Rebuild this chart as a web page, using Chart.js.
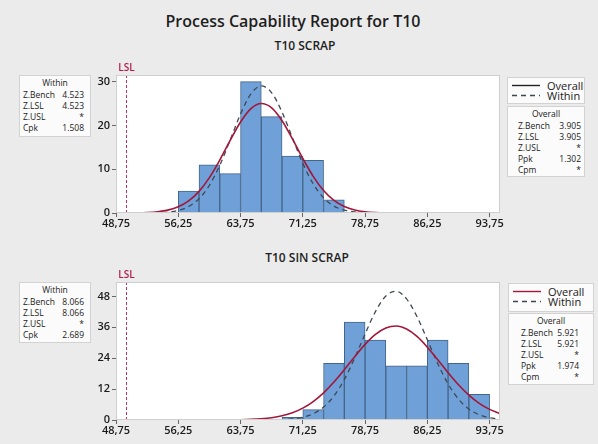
<!DOCTYPE html>
<html>
<head>
<meta charset="utf-8">
<script src="https://cdn.jsdelivr.net/npm/chart.js@4.4.1/dist/chart.umd.min.js"></script>
<style>
  html, body { margin: 0; padding: 0; background: #ebebeb; }
  #wrap { position: relative; width: 598px; height: 444px; overflow: hidden; background: #ebebeb;
          font-family: "Open Sans", "Noto Sans", sans-serif; color: #1e1e1e; }
  canvas { position: absolute; left: 0; }
  .t { position: absolute; white-space: nowrap; transform: translate(-50%, -50%); }
  .box { position: absolute; background: #fbfbfb; border: 1px solid #d2d2d2; box-sizing: border-box; }
  .box span { position: absolute; white-space: nowrap; font-size: 8.5px; line-height: 10px; color: #222; }
  .leg span { font-size: 11px; line-height: 12px; }
</style>
</head>
<body>
<div id="wrap">
  <div class="t" style="left:293px;top:21px;font-size:16px;font-weight:600;">Process Capability Report for T10</div>
  <div class="t" style="left:305px;top:45px;font-size:12px;font-weight:600;">T10 SCRAP</div>
  <div class="t" style="left:307px;top:257px;font-size:12px;font-weight:600;">T10 SIN SCRAP</div>
  <canvas id="cTop" width="598" height="176" style="top:60px"></canvas>
  <canvas id="cBot" width="598" height="176" style="top:268px"></canvas>
</div>
<script>
// ---- shared axis settings ----
const binWidth = 2.5;
const lslValue = 50;
const xTickValues = [48.75, 56.25, 63.75, 71.25, 78.75, 86.25, 93.75];
const xTickLabels = ['48,75', '56,25', '63,75', '71,25', '78,75', '86,25', '93,75'];

// ---- T10 SCRAP ----
const topBinStarts = [56.25, 58.75, 61.25, 63.75, 66.25, 68.75, 71.25, 73.75];
const topCounts = [5, 11, 9, 30, 22, 13, 12, 3];
const topCurveX = [50, 51.25, 52.5, 53.75, 55, 56.25, 57.5, 58.75, 60, 61.25, 62.5, 63.75, 65, 66.25,
                   67.5, 68.75, 70, 71.25, 72.5, 73.75, 75, 76.25, 77.5, 78.75, 80, 81.25, 82.5];
const topOverall = [0.01, 0.04, 0.11, 0.28, 0.66, 1.41, 2.75, 4.93, 8.07, 12.09, 16.57, 20.77, 23.83, 25.0,
                    24.0, 21.07, 16.93, 12.44, 8.37, 5.14, 2.89, 1.49, 0.70, 0.30, 0.12, 0.04, 0.01];
const topWithin = [0.001, 0.005, 0.02, 0.07, 0.22, 0.60, 1.48, 3.26, 6.33, 10.90, 16.66, 22.60, 27.18, 29.0,
                   27.44, 23.03, 17.15, 11.33, 6.64, 3.45, 1.59, 0.65, 0.24, 0.08, 0.02, 0.006, 0.002];
const topYTicks = [0, 10, 20, 30];
const topWithinStats = [['Z.Bench', '4.523'], ['Z.LSL', '4.523'], ['Z.USL', '*'], ['Cpk', '1.508']];
const topOverallStats = [['Z.Bench', '3.905'], ['Z.LSL', '3.905'], ['Z.USL', '*'], ['Ppk', '1.302'], ['Cpm', '*']];

// ---- T10 SIN SCRAP ----
const botBinStarts = [68.75, 71.25, 73.75, 76.25, 78.75, 81.25, 83.75, 86.25, 88.75, 91.25];
const botCounts = [1, 4, 22, 38, 31, 21, 21, 31, 22, 10];
const botOverallX = [61.25, 62.5, 63.75, 65, 66.25, 67.5, 68.75, 70, 71.25, 72.5, 73.75, 75, 76.25, 77.5,
                     78.75, 80, 81.25, 82.5, 83.75, 85, 86.25, 87.5, 88.75, 90, 91.25, 92.5, 93.75, 95];
const botOverall = [0.02, 0.05, 0.11, 0.23, 0.47, 0.90, 1.64, 2.83, 4.62, 7.17, 10.56, 14.75, 19.55, 24.60,
                    29.37, 33.27, 35.77, 36.49, 35.32, 32.45, 28.28, 23.39, 18.36, 13.68, 9.67, 6.48, 4.13, 2.49];
const botWithinX = [66.25, 67.5, 68.75, 70, 71.25, 72.5, 73.75, 75, 76.25, 77.5, 78.75, 80, 81.25, 82.5,
                    83.75, 85, 86.25, 87.5, 88.75, 90, 91.25, 92.5, 93.75, 95];
const botWithin = [0.02, 0.05, 0.16, 0.44, 1.08, 2.45, 5.01, 9.32, 15.72, 24.07, 33.42, 42.11, 48.15, 49.97,
                   47.04, 40.19, 31.16, 21.92, 13.99, 8.10, 4.26, 2.03, 0.88, 0.35];
const botYTicks = [0, 12, 24, 36, 48];
const botWithinStats = [['Z.Bench', '8.066'], ['Z.LSL', '8.066'], ['Z.USL', '*'], ['Cpk', '2.689']];
const botOverallStats = [['Z.Bench', '5.921'], ['Z.LSL', '5.921'], ['Z.USL', '*'], ['Ppk', '1.974'], ['Cpm', '*']];

const RED = '#a3173a';
const DASH = '#3f4852';
const BAR_FILL = '#6fa0d8';
const BAR_EDGE = '#44658a';

Chart.defaults.font.family = "'Open Sans', 'Noto Sans', sans-serif";
Chart.defaults.color = '#1a1a1a';

// white plot area, frame, and the LSL reference line with its tag
const plotDecor = {
  id: 'plotDecor',
  beforeDraw(chart) {
    const a = chart.chartArea, ctx = chart.ctx;
    ctx.save();
    ctx.fillStyle = '#ffffff';
    ctx.fillRect(a.left, a.top, a.right - a.left, a.bottom - a.top);
    ctx.restore();
  },
  beforeDatasetsDraw(chart) {
    const a = chart.chartArea, ctx = chart.ctx;
    const x = Math.round(chart.scales.x.getPixelForValue(lslValue)) + 0.5;
    ctx.save();
    ctx.strokeStyle = '#c3305d';
    ctx.lineWidth = 1;
    ctx.setLineDash([3, 2]);
    ctx.beginPath();
    ctx.moveTo(x, a.top);
    ctx.lineTo(x, a.bottom);
    ctx.stroke();
    ctx.setLineDash([]);
    ctx.fillStyle = '#b01a4c';
    ctx.font = "600 10px 'Open Sans', sans-serif";
    ctx.textAlign = 'center';
    ctx.textBaseline = 'middle';
    ctx.fillText('LSL', x, a.top - 7);
    ctx.restore();
  },
  afterDatasetsDraw(chart) {
    const a = chart.chartArea, ctx = chart.ctx;
    ctx.save();
    ctx.strokeStyle = '#cfcfcf';
    ctx.lineWidth = 1;
    ctx.strokeRect(a.left + 0.5, a.top + 0.5, a.right - a.left - 1, a.bottom - a.top - 1);
    ctx.restore();
  }
};

function makeChart(id, binStarts, counts, overallX, overall, withinX, within, yTicks, yMax, pad) {
  const bars = binStarts.map((s, i) => ({ x: s + binWidth / 2, y: counts[i] }));
  return new Chart(document.getElementById(id), {
    type: 'bar',
    data: {
      datasets: [
        { type: 'line', data: overallX.map((x, i) => ({ x, y: overall[i] })), borderColor: RED,
          borderWidth: 1.6, pointRadius: 0, cubicInterpolationMode: 'monotone', order: 1 },
        { type: 'line', data: withinX.map((x, i) => ({ x, y: within[i] })), borderColor: DASH,
          borderWidth: 1.3, borderDash: [5, 4], pointRadius: 0, cubicInterpolationMode: 'monotone', order: 2 },
        { type: 'bar', data: bars, backgroundColor: BAR_FILL, borderColor: BAR_EDGE, borderWidth: 1,
          barPercentage: 1, categoryPercentage: 1, order: 3 }
      ]
    },
    options: {
      responsive: false,
      animation: false,
      events: [],
      layout: { padding: pad },
      plugins: { legend: { display: false }, tooltip: { enabled: false } },
      scales: {
        x: {
          type: 'linear', min: 48.75, max: 95, offset: false,
          grid: { display: true, drawOnChartArea: false, drawTicks: true, tickLength: 4, color: '#666', offset: false },
          border: { display: false },
          afterBuildTicks(s) { s.ticks = xTickValues.map(v => ({ value: v })); },
          afterFit(s) { s.height = 20; s.paddingLeft = 0; s.paddingRight = 0; },
          ticks: { font: { size: 11, weight: '600' }, color: '#1a1a1a', padding: 0, maxRotation: 0, autoSkip: false,
                   callback: v => xTickLabels[xTickValues.indexOf(v)] }
        },
        y: {
          type: 'linear', min: 0, max: yMax,
          grid: { display: true, drawOnChartArea: false, drawTicks: true, tickLength: 4, color: '#666' },
          border: { display: false },
          afterBuildTicks(s) { s.ticks = yTicks.map(v => ({ value: v })); },
          afterFit(s) { s.width = 30; s.paddingTop = 0; s.paddingBottom = 0; },
          ticks: { font: { size: 11, weight: '600' }, color: '#1a1a1a', padding: 2 }
        }
      }
    },
    plugins: [plotDecor]
  });
}

makeChart('cTop', topBinStarts, topCounts, topCurveX, topOverall, topCurveX, topWithin, topYTicks, 31.5,
          { left: 86, right: 98, top: 15, bottom: 3 });
makeChart('cBot', botBinStarts, botCounts, botOverallX, botOverall, botWithinX, botWithin, botYTicks, 53.6,
          { left: 86, right: 98, top: 14, bottom: 4 });

// ---- stat tables and legends ----
const wrap = document.getElementById('wrap');
function addBox(x, y, w, h, cls) {
  const d = document.createElement('div');
  d.className = 'box' + (cls ? ' ' + cls : '');
  Object.assign(d.style, { left: x + 'px', top: y + 'px', width: w + 'px', height: h + 'px' });
  wrap.appendChild(d);
  return d;
}
function addText(box, text, css) {
  const s = document.createElement('span');
  s.textContent = text;
  Object.assign(s.style, css);
  box.appendChild(s);
  return s;
}
function statBox(x, y, w, h, head, rows, padL, padR, firstRow) {
  const b = addBox(x, y, w, h);
  addText(b, head, { left: 0, width: (w - 2) + 'px', textAlign: 'center', top: '2px' });
  rows.forEach((r, i) => {
    const top = (firstRow + i * 11 - 5) + 'px';
    addText(b, r[0], { left: padL + 'px', top });
    addText(b, r[1], { right: padR + 'px', top });
  });
}
function legendBox(x, y, w, h, solidColor) {
  const b = addBox(x, y, w, h, 'leg');
  const svg = document.createElementNS('http://www.w3.org/2000/svg', 'svg');
  svg.setAttribute('width', w); svg.setAttribute('height', h);
  svg.style.position = 'absolute'; svg.style.left = '-1px'; svg.style.top = '-1px';
  svg.innerHTML =
    `<line x1="5" y1="8.5" x2="33" y2="8.5" stroke="${solidColor}" stroke-width="1.4"/>` +
    `<line x1="5" y1="18.5" x2="33" y2="18.5" stroke="${DASH}" stroke-width="1.3" stroke-dasharray="5,4"/>`;
  b.appendChild(svg);
  addText(b, 'Overall', { left: '39px', top: '2px' });
  addText(b, 'Within', { left: '39px', top: '12px' });
}

statBox(19, 75, 72, 62, 'Within', topWithinStats, 3, 6, 19);
statBox(19, 282, 72, 61, 'Within', botWithinStats, 3, 6, 19);
legendBox(507, 77, 78, 27, '#222222');
statBox(507, 106, 78, 71, 'Overall', topOverallStats, 10, 3, 19);
legendBox(508, 283, 86, 29, RED);
statBox(508, 313, 86, 72, 'Overall', botOverallStats, 12, 14, 19);
</script>
</body>
</html>
